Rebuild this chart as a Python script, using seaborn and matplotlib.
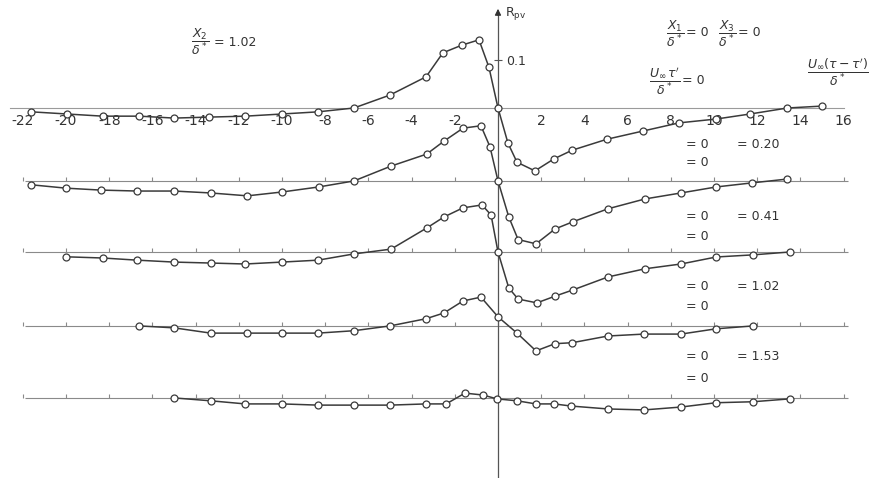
import numpy as np
import pandas as pd
import matplotlib
matplotlib.use("Agg")
import matplotlib.pyplot as plt
import seaborn as sns

# ---------------- data ----------------
x1 = [-21.6, -19.95, -18.3, -16.6, -15.0, -13.4, -11.7, -10.0, -8.33, -6.67, -5.0, -3.33,
      -2.55, -1.67, -0.88, -0.42, 0.0, 0.46, 0.88, 1.71, 2.59, 3.43, 5.05, 6.71, 8.38,
      10.1, 11.67, 13.4, 15.0]
y1 = [-0.008, -0.0125, -0.017, -0.017, -0.021, -0.019, -0.017, -0.0125, -0.008, 0.0, 0.027,
      0.065, 0.115, 0.131, 0.142, 0.085, 0.0, -0.073, -0.113, -0.131, -0.106, -0.088,
      -0.065, -0.048, -0.031, -0.023, -0.0125, 0.0, 0.004]

x2 = [-21.6, -20.0, -18.4, -16.7, -15.0, -13.3, -11.6, -10.0, -8.3, -6.67, -4.95, -3.3,
      -2.5, -1.62, -0.79, -0.37, 0.0, 0.5, 0.93, 1.76, 2.64, 3.47, 5.09, 6.8, 8.47, 10.1,
      11.76, 13.4]
y2 = [-0.008, -0.015, -0.019, -0.021, -0.021, -0.025, -0.031, -0.023, -0.0125, 0.0, 0.031,
      0.056, 0.083, 0.110, 0.115, 0.071, 0.0, -0.075, -0.122, -0.131, -0.100, -0.085,
      -0.058, -0.0375, -0.025, -0.0125, -0.004, 0.004]

x3 = [-20.0, -18.3, -16.7, -15.0, -13.3, -11.7, -10.0, -8.33, -6.67, -4.95, -3.3, -2.5,
      -1.62, -0.74, -0.32, 0.0, 0.5, 0.93, 1.8, 2.64, 3.47, 5.09, 6.8, 8.47, 10.1, 11.8, 13.5]
y3 = [-0.010, -0.0125, -0.017, -0.021, -0.023, -0.025, -0.021, -0.017, -0.004, 0.006, 0.05,
      0.073, 0.092, 0.098, 0.077, 0.0, -0.075, -0.098, -0.106, -0.092, -0.079, -0.052,
      -0.035, -0.025, -0.0104, -0.006, 0.0]

x4 = [-16.6, -15.0, -13.3, -11.6, -10.0, -8.33, -6.67, -5.0, -3.33, -2.5, -1.62, -0.79, 0.0,
      0.88, 1.76, 2.64, 3.43, 5.09, 6.76, 8.47, 10.1, 11.8]
y4 = [0.0, -0.004, -0.015, -0.015, -0.015, -0.015, -0.010, 0.0, 0.015, 0.027, 0.052, 0.060,
      0.019, -0.015, -0.052, -0.037, -0.035, -0.021, -0.017, -0.017, -0.006, 0.0]

x5 = [-15.0, -13.3, -11.7, -10.0, -8.33, -6.67, -5.0, -3.33, -2.4, -1.53, -0.69, -0.05,
      0.88, 1.76, 2.6, 3.4, 5.09, 6.76, 8.47, 10.1, 11.8, 13.5]
y5 = [0.0, -0.006, -0.0125, -0.0125, -0.015, -0.015, -0.015, -0.0125, -0.0125, 0.010,
      0.006, -0.002, -0.006, -0.0125, -0.0125, -0.017, -0.023, -0.025, -0.019, -0.010,
      -0.008, -0.002]

xtick_vals = [-22, -20, -18, -16, -14, -12, -10, -8, -6, -4, -2, 2, 4, 6, 8, 10, 12, 14, 16]
xtick_labels = ["-22", "-20", "-18", "-16", "-14", "-12", "-10", "-8", "-6", "-4", "-2",
                "2", "4", "6", "8", "10", "12", "14", "16"]
x3_labels = ["0.20", "0.41", "1.02", "1.53"]

# ---------------- layout ----------------
W, H = 869, 478
PX, PY = 21.6, 480.0      # pixels per x unit, pixels per y unit
X0, Y0 = 498.0, 108.0     # pixel position of data origin
offsets = [0.0, -0.152, -0.300, -0.454, -0.604]

sns.set_style("white")
plt.rcParams["font.family"] = ["DejaVu Sans"]
plt.rcParams["mathtext.fontset"] = "dejavusans"

fig = plt.figure(figsize=(W / 100, H / 100), dpi=100)
ax = fig.add_axes([0, 0, 1, 1])
ax.set_xlim(-X0 / PX, (W - X0) / PX)
ax.set_ylim((Y0 - H) / PY, Y0 / PY)


def P(px, py):
    return ((px - X0) / PX, (Y0 - py) / PY)


frames = []
for i, (xs, ys) in enumerate([(x1, y1), (x2, y2), (x3, y3), (x4, y4), (x5, y5)]):
    frames.append(pd.DataFrame({"x": xs, "y": ys, "curve": i}))
df = pd.concat(frames, ignore_index=True)
df["yplot"] = df["y"] + df["curve"].map(lambda c: offsets[c])

# baselines for the lower curves
tick_pos = np.arange(-22, 17, 2)
for off in offsets[1:]:
    ax.hlines(off, -21.9, 16.2, color="#8a8a8a", lw=0.8, zorder=1)
    ax.vlines(tick_pos, off, off + 0.009, color="#8a8a8a", lw=0.8, zorder=1)

for c in range(5):
    sub = df[df["curve"] == c]
    sns.lineplot(data=sub, x="x", y="yplot", ax=ax, estimator=None, sort=False,
                 color="#3a3a3a", lw=1.1, marker="o", markersize=5,
                 markerfacecolor="white", markeredgecolor="#3a3a3a",
                 markeredgewidth=0.9, zorder=3)

ax.set_xlabel("")
ax.set_ylabel("")

# top x-axis as real axis at y = 0
for s in ["top", "left"]:
    ax.spines[s].set_visible(False)
ax.spines["bottom"].set_position(("data", 0))
ax.spines["bottom"].set_bounds(-22.6, 16.0)
ax.spines["bottom"].set_color("#9a9a9a")
ax.spines["bottom"].set_linewidth(0.8)
ax.set_xticks(xtick_vals, xtick_labels)
ax.tick_params(axis="x", direction="in", length=4, width=0.8, color="#777777",
               labelsize=10, pad=4, labelcolor="#333333")

# vertical axis through x = 0
ax.spines["right"].set_position(("data", 0))
ax.spines["right"].set_bounds((Y0 - 477) / PY, (Y0 - 14) / PY)
ax.spines["right"].set_color("#555555")
ax.spines["right"].set_linewidth(0.9)
ax.yaxis.set_ticks_position("right")
ax.set_yticks([0.1], ["0.1"])
ax.tick_params(axis="y", direction="inout", length=6, width=0.8, color="#555555",
               labelsize=9, pad=3, labelcolor="#333333")
ax.annotate("", xy=(0, (Y0 - 6) / PY), xytext=(0, (Y0 - 18) / PY),
            arrowprops=dict(arrowstyle="-|>", color="#333333", lw=0.9, mutation_scale=9))

tc = "#333333"
ax.text(*P(505, 14), r"R$_{\rm pv}$", fontsize=9, color=tc, ha="left", va="center")

ax.text(*P(200, 42), r"$\dfrac{X_2}{\delta^*}$", fontsize=9, color=tc, ha="center", va="center")
ax.text(*P(214, 42), "= 1.02", fontsize=9, color=tc, ha="left", va="center")

ax.text(*P(675, 34), r"$\dfrac{X_1}{\delta^*}$", fontsize=9, color=tc, ha="center", va="center")
ax.text(*P(686, 33), "= 0", fontsize=9, color=tc, ha="left", va="center")
ax.text(*P(727, 34), r"$\dfrac{X_3}{\delta^*}$", fontsize=9, color=tc, ha="center", va="center")
ax.text(*P(738, 33), "= 0", fontsize=9, color=tc, ha="left", va="center")

ax.text(*P(665, 81), r"$\dfrac{U_\infty\,\tau'}{\delta^*}$", fontsize=9, color=tc,
        ha="center", va="center")
ax.text(*P(682, 80), "= 0", fontsize=9, color=tc, ha="left", va="center")

ax.text(*P(838, 72), r"$\dfrac{U_\infty(\tau-\tau')}{\delta^*}$", fontsize=9, color=tc,
        ha="center", va="center")

row_px = [(145, 163), (216, 237), (287, 307), (356, 378)]
for (r1, r2), lab in zip(row_px, x3_labels):
    ax.text(*P(686, r1), "= 0", fontsize=9, color=tc, ha="left", va="center")
    ax.text(*P(737, r1), "= " + lab, fontsize=9, color=tc, ha="left", va="center")
    ax.text(*P(686, r2), "= 0", fontsize=9, color=tc, ha="left", va="center")

fig.savefig("out.png", dpi=100, facecolor="white")
